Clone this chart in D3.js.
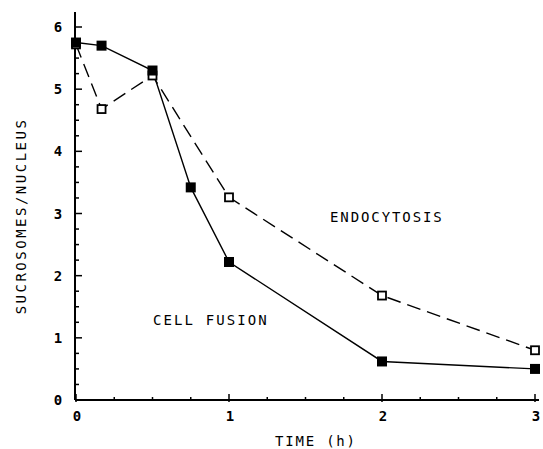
<!DOCTYPE html>
<html><head><meta charset="utf-8">
<script src="https://cdn.jsdelivr.net/npm/d3@7"></script>
<style>body{margin:0;background:#fff}text{font-family:"DejaVu Sans Mono",monospace;fill:#000}</style>
</head><body><svg id="c" width="543" height="449"></svg>
<script>
const fusionTime = [0, 0.167, 0.5, 0.75, 1, 2, 3];
const fusionValues = [5.75, 5.7, 5.3, 3.42, 2.22, 0.62, 0.5];
const endoTime = [0, 0.167, 0.5, 1, 2, 3];
const endoValues = [5.72, 4.68, 5.22, 3.26, 1.68, 0.8];
const xTickLabels = [0, 1, 2, 3];
const yTickLabels = [0, 1, 2, 3, 4, 5, 6];
const seriesLabels = ["CELL FUSION", "ENDOCYTOSIS"];

const svg = d3.select("#c");
const x = d3.scaleLinear().domain([0, 3]).range([76, 535]);
const y = d3.scaleLinear().domain([0, 6]).range([400, 27]);

const g = svg.append("g");
g.append("line").attr("x1", x(0)-1).attr("x2", x(3)+4).attr("y1", y(0)).attr("y2", y(0)).attr("stroke","#000").attr("stroke-width",2);
g.append("line").attr("x1", x(0)-1).attr("x2", x(0)-1).attr("y1", y(0)).attr("y2", 12).attr("stroke","#000").attr("stroke-width",2);

const yMinor = d3.range(0, 6.01, 0.25);
g.selectAll(".yt").data(yMinor).join("line")
  .attr("x1", x(0)-1).attr("x2", d => x(0) + (Number.isInteger(d) ? 6 : 3))
  .attr("y1", d => y(d)).attr("y2", d => y(d)).attr("stroke","#000").attr("stroke-width",1.5);
g.selectAll(".yl").data(yTickLabels).join("text")
  .attr("x", 58).attr("y", d => y(d)+5).attr("text-anchor","middle")
  .style("font-size","14px").style("font-weight","bold").text(d => d);

const xMinor = d3.range(0, 3.01, 0.25);
g.selectAll(".xt").data(xMinor).join("line")
  .attr("x1", d => x(d)).attr("x2", d => x(d))
  .attr("y1", d => y(0) + (Number.isInteger(d) ? 2 : 0)).attr("y2", d => y(0) - (Number.isInteger(d) ? 6 : 3))
  .attr("stroke","#000").attr("stroke-width",1.5);
g.selectAll(".xl").data(xTickLabels).join("text")
  .attr("x", d => x(d)+1).attr("y", 421).attr("text-anchor","middle")
  .style("font-size","14px").style("font-weight","bold").text(d => d);

g.append("text").attr("x", 275).attr("y", 446)
  .style("font-size","14px").style("letter-spacing","1.8px").text("TIME (h)");
g.append("text").attr("transform","translate(26,216) rotate(-90)").attr("text-anchor","middle")
  .style("font-size","14px").style("letter-spacing","2.5px").text("SUCROSOMES/NUCLEUS");

const line = d3.line().x(d => x(d[0])).y(d => y(d[1]));
const fusion = fusionTime.map((t,i) => [t, fusionValues[i]]);
const endo = endoTime.map((t,i) => [t, endoValues[i]]);
g.append("path").datum(endo).attr("d", line).attr("fill","none").attr("stroke","#000")
  .attr("stroke-width",1.4).attr("stroke-dasharray","14,7");
g.append("path").datum(fusion).attr("d", line).attr("fill","none").attr("stroke","#000").attr("stroke-width",1.4);

g.selectAll(".em").data(endo).join("rect")
  .attr("x", d => x(d[0])-4).attr("y", d => y(d[1])-4).attr("width",8).attr("height",8)
  .attr("fill","#fff").attr("stroke","#000").attr("stroke-width",1.8);
g.selectAll(".fm").data(fusion).join("rect")
  .attr("x", d => x(d[0])-5).attr("y", d => y(d[1])-5).attr("width",10).attr("height",10)
  .attr("fill","#000");

g.append("text").attr("x", 153).attr("y", 325).style("font-size","14px").style("letter-spacing","2.1px").text(seriesLabels[0]);
g.append("text").attr("x", 330).attr("y", 222).style("font-size","14px").style("letter-spacing","1.9px").text(seriesLabels[1]);
</script></body></html>
